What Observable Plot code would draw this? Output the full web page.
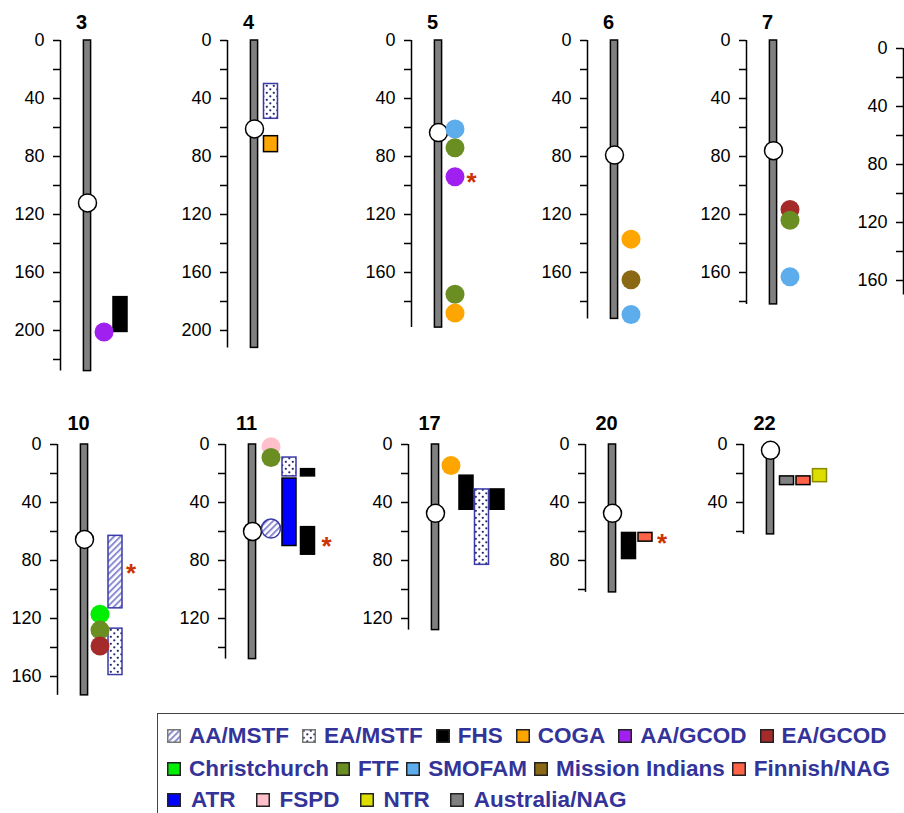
<!DOCTYPE html>
<html><head><meta charset="utf-8">
<script src="https://cdn.jsdelivr.net/npm/d3@7"></script>
<script src="https://cdn.jsdelivr.net/npm/@observablehq/plot@0.6"></script>
<style>
html,body{margin:0;padding:0;background:#fff;}
#page{position:relative;width:904px;height:813px;overflow:hidden;font-family:"Liberation Sans",Arial,Helvetica,sans-serif;}
.panel{position:absolute;}
.panel svg{max-width:none !important;}
#legend{position:absolute;left:157px;top:713px;width:800px;height:130px;border:1.5px solid #444;box-sizing:border-box;}
.lrow{position:absolute;left:9px;display:flex;align-items:center;height:30px;white-space:nowrap;}
.item{display:flex;align-items:center;}
.lab{font-weight:bold;font-size:22.5px;color:#333399;line-height:30px;}
.sw{display:block;flex:none;}
</style></head>
<body>
<div id="page">
<svg width="0" height="0" style="position:absolute;left:0;top:0">
  <defs>
    <pattern id="hatch" patternUnits="userSpaceOnUse" width="4.5" height="4.5" patternTransform="rotate(45)">
      <rect width="4.5" height="4.5" fill="#ffffff"/>
      <line x1="1" y1="0" x2="1" y2="4.5" stroke="#8c8cd0" stroke-width="2"/>
    </pattern>
    <pattern id="dots" patternUnits="userSpaceOnUse" width="7" height="7">
      <rect width="7" height="7" fill="#ffffff"/>
      <circle cx="1.8" cy="1.8" r="1.15" fill="#2b2b75"/>
      <circle cx="5.3" cy="5.3" r="1.15" fill="#2b2b75"/>
    </pattern>
  </defs>
</svg>
<div id="legend"></div>
</div>
<script>
// ---------------- DATA ----------------
const chrNames      = ["3","4","5","6","7","9","10","11","17","20","22"];
const chrTitles     = ["3","4","5","6","7","","10","11","17","20","22"];
const chrLength     = [228,212,198,192,182,170,173,148,128,102,62];
const centromerePos = [112,61,63.5,79,76,null,65.5,60,47.5,47.5,4];

// single-point linkage results (drawn as circles)
const pointChr   = ["3","5","5","5","5","5","6","6","6","7","7","7","10","10","10","11","11","11","17"];
const pointStudy = ["AA/GCOD","SMOFAM","FTF","AA/GCOD","FTF","COGA","COGA","Mission Indians","SMOFAM","EA/GCOD","FTF","SMOFAM","Christchurch","FTF","EA/GCOD","FSPD","FTF","AA/MSTF","COGA"];
const pointPos   = [201,61,74,94,175,188,137,165,189,116.5,124,163,117,128,139,1.5,9,58,14.5];
const pointLane  = [1,1,1,1,1,1,1,1,1,1,1,1,1,1,1,1,1,1,1];

// interval linkage results (drawn as bars)
const intervalChr   = ["3","4","4","10","10","11","11","11","11","17","17","17","20","20","22","22","22"];
const intervalStudy = ["FHS","EA/MSTF","COGA","AA/MSTF","EA/MSTF","EA/MSTF","ATR","FHS","FHS","FHS","EA/MSTF","FHS","FHS","Finnish/NAG","Australia/NAG","Finnish/NAG","NTR"];
const intervalStart = [177,30,66,63,127,9,23.5,17,57,21.5,31,31,61,61,22,22,17];
const intervalEnd   = [201,54,77,113,159,22,70,22,76,45,83,45,79,67,28,28,26];
const intervalLane  = [2,1,1,2,2,2,2,3,3,2,3,4,1,2,1,2,3];

// significant results (asterisks)
const sigChr  = ["5","10","11","20"];
const sigPos  = [94,85,66,64];
const sigLane = [2,3,4,3];

// axis ticks (cM)
const tickStep = 20;
const labelStep = 40;

// legend
const legendRows = [
  ["AA/MSTF","EA/MSTF","FHS","COGA","AA/GCOD","EA/GCOD"],
  ["Christchurch","FTF","SMOFAM","Mission Indians","Finnish/NAG"],
  ["ATR","FSPD","NTR","Australia/NAG"]
];

// ---------------- STYLE / LAYOUT ----------------
const studyStyle = {
  "AA/MSTF":        {fill:"url(#hatch)", stroke:"#3a3aa8", sw:"#777"},
  "EA/MSTF":        {fill:"url(#dots)",  stroke:"#3a3aa8", sw:"#777"},
  "FHS":            {fill:"#000000", stroke:"#000000"},
  "COGA":           {fill:"#FFA500", stroke:"#000000"},
  "AA/GCOD":        {fill:"#A020F0"},
  "EA/GCOD":        {fill:"#A52A2A"},
  "Christchurch":   {fill:"#00EE00"},
  "FTF":            {fill:"#6B8E23"},
  "SMOFAM":         {fill:"#5DADEC"},
  "Mission Indians":{fill:"#8B6914"},
  "Finnish/NAG":    {fill:"#FF6347", stroke:"#000000"},
  "ATR":            {fill:"#0000FF", stroke:"#000000"},
  "FSPD":           {fill:"#FFC0CB"},
  "NTR":            {fill:"#DDDD00", stroke:"#8a8a00"},
  "Australia/NAG":  {fill:"#808080", stroke:"#000000"}
};
const panelLayout = {
  "3": {axis:60,  zero:40,  tdy:-18}, "4": {axis:227, zero:40, tdy:-18},
  "5": {axis:411, zero:40,  tdy:-18}, "6": {axis:587, zero:40, tdy:-18},
  "7": {axis:746, zero:40,  tdy:-18}, "9": {axis:903, zero:48, tdy:-18},
  "10":{axis:57,  zero:444, tdy:-21}, "11":{axis:225, zero:444, tdy:-21},
  "17":{axis:408, zero:444, tdy:-21}, "20":{axis:585, zero:444, tdy:-21},
  "22":{axis:743, zero:444, tdy:-21}
};
const laneUnit = {"10":15.5, "11":18.5, "17":15.5};
const PX = 1.45, MT = 40, ML = 60, MR = 10, MB = 12, W = 190, AXIS_GAP = 27;
const legendRowStyle = [{top:7, gin:8, gout:13}, {top:40, gin:8, gout:7}, {top:71, gin:10, gout:20}];

// ---------------- BUILD ----------------
const points = pointChr.map((c,i)=>({chr:c, study:pointStudy[i], pos:pointPos[i], lane:pointLane[i]}));
const intervals = intervalChr.map((c,i)=>({chr:c, study:intervalStudy[i], start:intervalStart[i], end:intervalEnd[i], lane:intervalLane[i]}));
const sigs = sigChr.map((c,i)=>({chr:c, pos:sigPos[i], lane:sigLane[i]}));

const page = document.getElementById("page");

chrNames.forEach((name, i) => {
  const L = panelLayout[name];
  const lu = laneUnit[name] ?? 16.5;
  const x0 = -AXIS_GAP / lu;
  const x1 = x0 + (W - ML - MR) / lu;
  const len = chrLength[i];
  const title = chrTitles[i];
  const H = MT + len * PX + MB;
  const ticks = d3.range(0, len + 1e-9, tickStep);
  const marks = [
    Plot.ruleX([x0], {y1: 0, y2: len, stroke: "black", strokeWidth: 1.5}),
    Plot.axisY(ticks, {anchor: "left", tickSize: 7, tickPadding: 9, fontSize: 18, strokeWidth: 1.5,
      tickFormat: d => (d % labelStep === 0 ? String(d) : ""), label: null})
  ];
  if (title) {
    marks.push(Plot.rect([len], {x1: -3.6 / lu, x2: 3.6 / lu, y1: 0, y2: d => d, fill: "#808080", stroke: "black", strokeWidth: 1.5}));
    if (centromerePos[i] != null)
      marks.push(Plot.dot([centromerePos[i]], {x: 0, y: d => d, r: 9, fill: "white", stroke: "black", strokeWidth: 1.5}));
    marks.push(Plot.text([title], {x: 0, y: 0, text: d => d, dx: -6, dy: L.tdy, fontSize: 20, fontWeight: "bold", fill: "black"}));
  }
  const ints = intervals.filter(d => d.chr === name);
  const hw = 7 / lu;
  marks.push(Plot.rect(ints, {x1: d => d.lane - hw, x2: d => d.lane + hw, y1: "start", y2: "end",
    fill: d => studyStyle[d.study].fill, stroke: d => studyStyle[d.study].stroke ?? "none", strokeWidth: 1.5}));
  const pts = points.filter(d => d.chr === name);
  marks.push(Plot.dot(pts, {x: "lane", y: "pos", r: 9.5,
    fill: d => studyStyle[d.study].fill,
    stroke: d => (studyStyle[d.study].fill.startsWith("url") ? studyStyle[d.study].stroke : "none"), strokeWidth: 1.5}));
  const sg = sigs.filter(d => d.chr === name);
  marks.push(Plot.text(sg, {x: "lane", y: "pos", text: () => "*", fill: "#CC3300", fontSize: 26, fontWeight: "bold", dy: 6}));

  const svg = Plot.plot({
    width: W, height: H, marginTop: MT, marginLeft: ML, marginRight: MR, marginBottom: MB,
    x: {domain: [x0, x1], range: [ML, W - MR], axis: null},
    y: {domain: [0, len], range: [MT, MT + len * PX]},
    color: {type: "identity"},
    style: {background: "transparent", overflow: "visible", maxWidth: "none", fontFamily: "'Liberation Sans', Arial, Helvetica, sans-serif"},
    marks
  });
  const div = document.createElement("div");
  div.className = "panel";
  div.style.left = (L.axis - ML) + "px";
  div.style.top = (L.zero - MT) + "px";
  div.style.width = W + "px";
  div.appendChild(svg);
  page.appendChild(div);
});

// legend
const legend = document.getElementById("legend");
legendRows.forEach((row, r) => {
  const st = legendRowStyle[r];
  const rowDiv = document.createElement("div");
  rowDiv.className = "lrow";
  rowDiv.style.top = st.top + "px";
  row.forEach((study, k) => {
    const s = studyStyle[study];
    const item = document.createElement("div");
    item.className = "item";
    if (k > 0) item.style.marginLeft = st.gout + "px";
    const ns = "http://www.w3.org/2000/svg";
    const sv = document.createElementNS(ns, "svg");
    sv.setAttribute("width", 14); sv.setAttribute("height", 14);
    sv.setAttribute("class", "sw");
    const rc = document.createElementNS(ns, "rect");
    rc.setAttribute("x", 0.75); rc.setAttribute("y", 0.75);
    rc.setAttribute("width", 12.5); rc.setAttribute("height", 12.5);
    rc.setAttribute("fill", s.fill);
    rc.setAttribute("stroke", s.sw ?? "#222");
    rc.setAttribute("stroke-width", 1.5);
    sv.appendChild(rc);
    item.appendChild(sv);
    const lab = document.createElement("span");
    lab.className = "lab";
    lab.style.marginLeft = st.gin + "px";
    lab.textContent = study;
    item.appendChild(lab);
    rowDiv.appendChild(item);
  });
  legend.appendChild(rowDiv);
});
</script>
</body></html>
